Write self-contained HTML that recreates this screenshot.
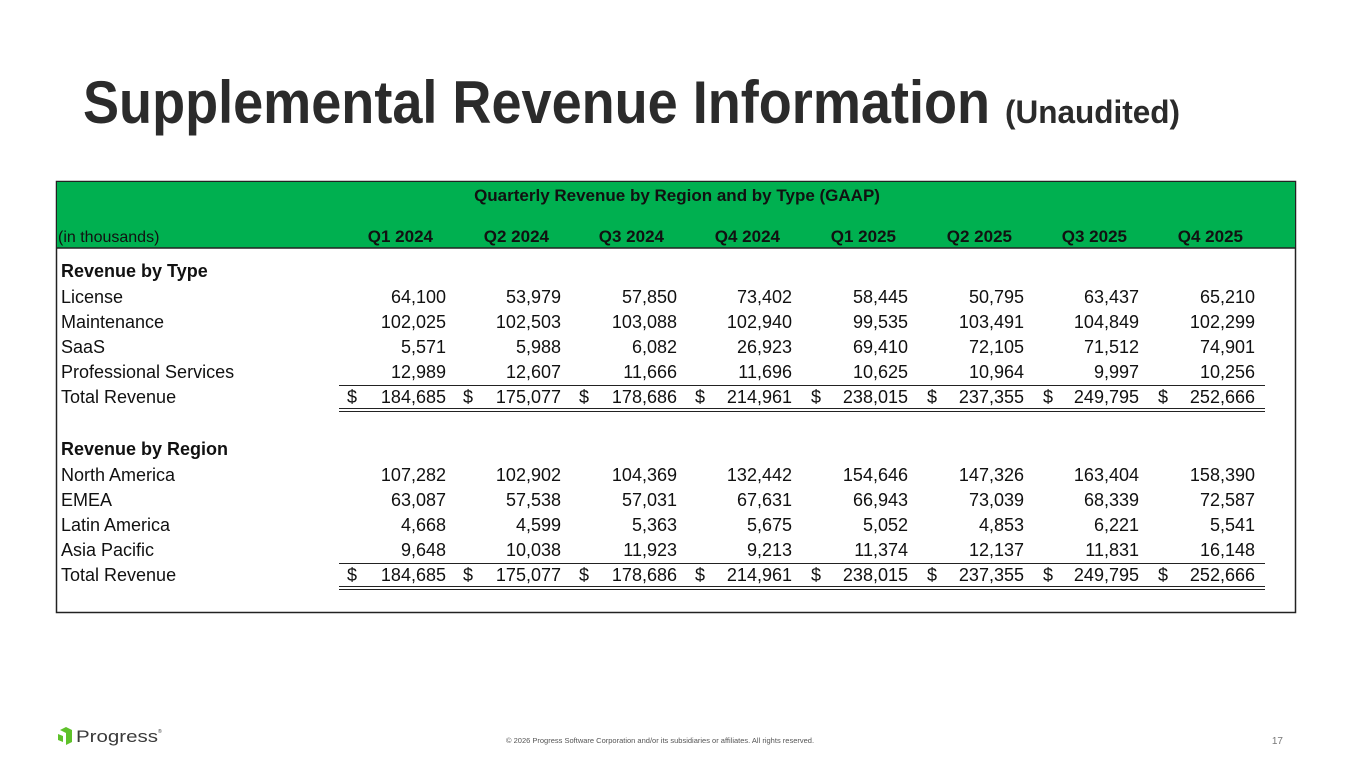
<!DOCTYPE html>
<html><head><meta charset="utf-8"><style>
html,body{margin:0;padding:0;background:#fff;}
svg{display:block;font-family:"Liberation Sans",Arial,sans-serif;}
</style></head><body>
<svg width="1365" height="768" viewBox="0 0 1365 768" xmlns="http://www.w3.org/2000/svg">
<rect width="1365" height="768" fill="#fff"/>
<text x="83" y="123" font-size="60" font-weight="bold" fill="#2b2b2b" textLength="907" lengthAdjust="spacingAndGlyphs">Supplemental Revenue Information</text>
<text x="1005" y="123" font-size="32" font-weight="bold" fill="#2b2b2b" textLength="175" lengthAdjust="spacingAndGlyphs">(Unaudited)</text>
<rect x="56.5" y="181.5" width="1239" height="431" fill="#fff" stroke="#222" stroke-width="1.5"/>
<rect x="57" y="182" width="1238" height="66" fill="#00b050"/>
<line x1="57" y1="248" x2="1295" y2="248" stroke="#222" stroke-width="1.5"/>
<g font-size="17" font-weight="bold" fill="#111">
<text x="677" y="201" text-anchor="middle">Quarterly Revenue by Region and by Type (GAAP)</text>
</g>
<text x="58" y="242" font-size="16" fill="#111">(in thousands)</text>
<g font-size="17" font-weight="bold" fill="#111" text-anchor="end">
<text x="433" y="242">Q1 2024</text><text x="549" y="242">Q2 2024</text><text x="664" y="242">Q3 2024</text><text x="780" y="242">Q4 2024</text>
<text x="896" y="242">Q1 2025</text><text x="1012" y="242">Q2 2025</text><text x="1127" y="242">Q3 2025</text><text x="1243" y="242">Q4 2025</text>
</g>
<g font-size="18" fill="#111">
<text x="61" y="277" font-weight="bold">Revenue by Type</text>
<text x="61" y="303">License</text>
<text x="61" y="328">Maintenance</text>
<text x="61" y="353">SaaS</text>
<text x="61" y="378">Professional Services</text>
<text x="61" y="403">Total Revenue</text>
<text x="61" y="455" font-weight="bold">Revenue by Region</text>
<text x="61" y="481">North America</text>
<text x="61" y="506">EMEA</text>
<text x="61" y="531">Latin America</text>
<text x="61" y="556">Asia Pacific</text>
<text x="61" y="581">Total Revenue</text>
</g>
<g font-size="18" fill="#111" text-anchor="end">
<text y="303"><tspan x="446">64,100</tspan><tspan x="561">53,979</tspan><tspan x="677">57,850</tspan><tspan x="792">73,402</tspan><tspan x="908">58,445</tspan><tspan x="1024">50,795</tspan><tspan x="1139">63,437</tspan><tspan x="1255">65,210</tspan></text>
<text y="328"><tspan x="446">102,025</tspan><tspan x="561">102,503</tspan><tspan x="677">103,088</tspan><tspan x="792">102,940</tspan><tspan x="908">99,535</tspan><tspan x="1024">103,491</tspan><tspan x="1139">104,849</tspan><tspan x="1255">102,299</tspan></text>
<text y="353"><tspan x="446">5,571</tspan><tspan x="561">5,988</tspan><tspan x="677">6,082</tspan><tspan x="792">26,923</tspan><tspan x="908">69,410</tspan><tspan x="1024">72,105</tspan><tspan x="1139">71,512</tspan><tspan x="1255">74,901</tspan></text>
<text y="378"><tspan x="446">12,989</tspan><tspan x="561">12,607</tspan><tspan x="677">11,666</tspan><tspan x="792">11,696</tspan><tspan x="908">10,625</tspan><tspan x="1024">10,964</tspan><tspan x="1139">9,997</tspan><tspan x="1255">10,256</tspan></text>
<text y="403"><tspan x="446">184,685</tspan><tspan x="561">175,077</tspan><tspan x="677">178,686</tspan><tspan x="792">214,961</tspan><tspan x="908">238,015</tspan><tspan x="1024">237,355</tspan><tspan x="1139">249,795</tspan><tspan x="1255">252,666</tspan></text>
<text y="481"><tspan x="446">107,282</tspan><tspan x="561">102,902</tspan><tspan x="677">104,369</tspan><tspan x="792">132,442</tspan><tspan x="908">154,646</tspan><tspan x="1024">147,326</tspan><tspan x="1139">163,404</tspan><tspan x="1255">158,390</tspan></text>
<text y="506"><tspan x="446">63,087</tspan><tspan x="561">57,538</tspan><tspan x="677">57,031</tspan><tspan x="792">67,631</tspan><tspan x="908">66,943</tspan><tspan x="1024">73,039</tspan><tspan x="1139">68,339</tspan><tspan x="1255">72,587</tspan></text>
<text y="531"><tspan x="446">4,668</tspan><tspan x="561">4,599</tspan><tspan x="677">5,363</tspan><tspan x="792">5,675</tspan><tspan x="908">5,052</tspan><tspan x="1024">4,853</tspan><tspan x="1139">6,221</tspan><tspan x="1255">5,541</tspan></text>
<text y="556"><tspan x="446">9,648</tspan><tspan x="561">10,038</tspan><tspan x="677">11,923</tspan><tspan x="792">9,213</tspan><tspan x="908">11,374</tspan><tspan x="1024">12,137</tspan><tspan x="1139">11,831</tspan><tspan x="1255">16,148</tspan></text>
<text y="581"><tspan x="446">184,685</tspan><tspan x="561">175,077</tspan><tspan x="677">178,686</tspan><tspan x="792">214,961</tspan><tspan x="908">238,015</tspan><tspan x="1024">237,355</tspan><tspan x="1139">249,795</tspan><tspan x="1255">252,666</tspan></text>
</g>
<g font-size="18" fill="#111">
<text y="403"><tspan x="347">$</tspan><tspan x="463">$</tspan><tspan x="579">$</tspan><tspan x="695">$</tspan><tspan x="811">$</tspan><tspan x="927">$</tspan><tspan x="1043">$</tspan><tspan x="1158">$</tspan></text>
<text y="581"><tspan x="347">$</tspan><tspan x="463">$</tspan><tspan x="579">$</tspan><tspan x="695">$</tspan><tspan x="811">$</tspan><tspan x="927">$</tspan><tspan x="1043">$</tspan><tspan x="1158">$</tspan></text>
</g>
<g stroke="#222" stroke-width="1">
<line x1="339" y1="385.5" x2="1265" y2="385.5"/>
<line x1="339" y1="408.5" x2="1265" y2="408.5"/>
<line x1="339" y1="411.5" x2="1265" y2="411.5"/>
<line x1="339" y1="563.5" x2="1265" y2="563.5"/>
<line x1="339" y1="586.5" x2="1265" y2="586.5"/>
<line x1="339" y1="589.5" x2="1265" y2="589.5"/>
</g>
<g fill="#5ec12a">
<polygon points="60,730 66,727 72,730 72,742 66,745 66,733 60,730"/>
<polygon points="58,734 63,736 63,742 58,740"/>
</g>
<text x="76" y="742" font-size="17" fill="#3a3a3a" textLength="82" lengthAdjust="spacingAndGlyphs">Progress</text>
<text x="158" y="733" font-size="5" fill="#3a3a3a">®</text>
<text x="506" y="743" font-size="7.5" fill="#555">© 2026 Progress Software Corporation and/or its subsidiaries or affiliates. All rights reserved.</text>
<text x="1283" y="744" font-size="10" fill="#777" text-anchor="end">17</text>
</svg>
</body></html>
